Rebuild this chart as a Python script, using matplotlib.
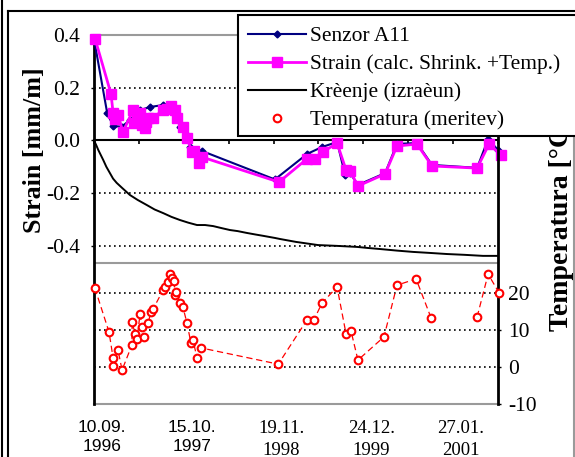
import matplotlib
matplotlib.use('Agg')
import matplotlib.pyplot as plt
import numpy as np
from matplotlib.lines import Line2D
from matplotlib.patches import Rectangle
import matplotlib.transforms as mtransforms

# ---------------- data (x = days since 10.09.1996) ----------------
sensor_days = [0, 59, 86, 123, 160, 205, 250, 306, 343, 365, 383, 414, 428, 481,
               806, 950, 1016, 1083, 1119, 1141, 1176, 1297, 1350, 1439, 1506,
               1707, 1756, 1800]
sensor_strain = [0.385, 0.103, 0.055, 0.052, 0.077, 0.115, 0.127, 0.134, 0.135,
                 0.11, 0.05, 0.02, -0.025, -0.04, -0.148, -0.051, -0.025, -0.006,
                 -0.131, -0.124, -0.169, -0.124, -0.013, -0.01, -0.093, -0.104,
                 0.005, -0.036]

calc_days = [5, 76, 85, 94, 107, 129, 174, 176, 196, 205, 214, 227, 232, 241, 263,
             307, 325, 343, 361, 370, 397, 414, 437, 446, 468, 481, 824, 949, 985,
             1020, 1083, 1123, 1141, 1176, 1297, 1350, 1439, 1506, 1707, 1760, 1813]
calc_strain = [0.385, 0.176, 0.104, 0.081, 0.096, 0.032, 0.115, 0.066, 0.078, 0.104,
               0.059, 0.047, 0.07, 0.085, 0.085, 0.115, 0.119, 0.131, 0.115, 0.085,
               0.051, 0.009, -0.044, -0.04, -0.086, -0.063, -0.158, -0.07, -0.07,
               -0.044, -0.01, -0.112, -0.116, -0.173, -0.127, -0.021, -0.014,
               -0.097, -0.105, -0.014, -0.055]

creep_days = [0, 10, 19, 30, 41, 55, 71, 85, 101, 125, 160, 195, 235, 270, 309, 345,
              383, 420, 459, 495, 531, 570, 606, 640, 681, 720, 754, 806, 829, 900,
              998, 1080, 1172, 1220, 1274, 1350, 1422, 1500, 1573, 1650, 1733, 1800]
creep_strain = [0, -0.018, -0.036, -0.055, -0.074, -0.1, -0.124, -0.145, -0.161,
                -0.18, -0.207, -0.226, -0.245, -0.262, -0.276, -0.29, -0.302, -0.312,
                -0.321, -0.321, -0.325, -0.333, -0.34, -0.344, -0.351, -0.357, -0.362,
                -0.37, -0.374, -0.385, -0.397, -0.4, -0.404, -0.408, -0.412, -0.418,
                -0.423, -0.427, -0.431, -0.434, -0.438, -0.438]

temp_days = [4, 67, 85, 86, 107, 125, 169, 170, 183, 192, 205, 214, 223, 241, 254,
             263, 308, 316, 330, 339, 348, 357, 361, 365, 383, 396, 414, 432, 441,
             459, 477, 821, 949, 980, 1016, 1083, 1123, 1145, 1176, 1292, 1350,
             1435, 1502, np.nan, 1707, 1756, 1805]
temp_vals = [21.4, 9.5, 2.5, 0.3, 4.6, -0.8, 6.0, 12.2, 9.0, 7.6, 14.4, 10.9, 8.2,
             12.0, 14.9, 15.7, 20.9, 21.7, 23.1, 25.2, 24.1, 23.3, 19.5, 20.4, 17.4,
             16.3, 12.0, 6.5, 7.3, 2.5, 5.2, 0.8, 12.8, 12.8, 17.4, 21.7, 9.0, 9.8,
             1.9, 8.2, 22.2, 23.9, 13.3, np.nan, 13.6, 25.2, 20.1]

strain_ticks = [0.4, 0.2, 0.0, -0.2, -0.4]
strain_ticklabels = ['0.4', '0.2', '0.0', '-0.2', '-0.4']
temp_ticks = [-10, 0, 10, 20]
temp_ticklabels = ['-10', '0', '10', '20']
date_days = [0, 400, 800, 1200, 1600]
date_labels = ['10.09.\n1996', '15.10.\n1997', '19.11.\n1998', '24.12.\n1999', '27.01.\n2001']
date_fonts = ['Liberation Sans', 'Liberation Sans', 'Liberation Serif', 'Liberation Serif', 'Liberation Serif']

labels = ['Senzor A11', 'Strain (calc. Shrink. +Temp.)', 'Krèenje (izraèun)', 'Temperatura (meritev)']

SERIF = 'Liberation Serif'
W, H = 575, 457

fig = plt.figure(figsize=(W / 100, H / 100), dpi=100)
fig.patch.set_facecolor('white')
ax = fig.add_axes([94 / W, 1 - 404 / H, (498 - 94) / W, (404 - 35) / H])
ax.set_xlim(0, 1800)
ax.set_ylim(-1.0, 0.4)
ax2 = ax.twinx()
ax2.set_ylim(-10, 90)

# spines
ax.spines['top'].set_visible(False)
ax.spines['right'].set_visible(False)
ax.spines['bottom'].set_position(('data', 0))
ax.spines['bottom'].set_linewidth(1.5)
ax.spines['left'].set_linewidth(2)
for s in ['top', 'left', 'bottom']:
    ax2.spines[s].set_visible(False)
ax2.spines['right'].set_linewidth(2)

ax.set_xticks(np.arange(0, 1801, 200))
ax.tick_params(axis='x', direction='out', length=3, width=1.2, labelbottom=False)
ax.set_yticks(strain_ticks)
ax.set_yticklabels(strain_ticklabels, family=SERIF, fontsize=15.5)
ax.tick_params(axis='y', direction='out', length=2, width=1, pad=8)
ax2.set_yticks(temp_ticks)
ax2.set_yticklabels(temp_ticklabels, family=SERIF, fontsize=15.5)
ax2.tick_params(axis='y', direction='out', length=2.5, width=1, pad=5)

# grid / separator lines
dot = (0, (1, 2))
for v in [0.2, -0.2, -0.4]:
    ax.axhline(v, color='black', lw=1.2, ls=dot, zorder=1)
for v in [0, 10, 20]:
    ax2.axhline(v, color='black', lw=1.2, ls=dot, zorder=1)
gray = '#9a9a9a'
ax.axhline(0.4, color=gray, lw=1.5, zorder=1, clip_on=False)
ax.axhline(-0.465, color=gray, lw=1.5, zorder=1)
ax.axhline(-1.0, color=gray, lw=1.5, zorder=1, clip_on=False)

# series
ax.plot(creep_days, creep_strain, color='black', lw=1.4, zorder=3)
ax.plot(sensor_days, sensor_strain, color='#000080', lw=1.5, marker='D',
        markersize=3.5, zorder=4, clip_on=False)
ax.plot(calc_days, calc_strain, color='#FF00FF', lw=2, marker='s', markersize=7,
        zorder=5, clip_on=False)
ax2.plot(temp_days, temp_vals, color='red', lw=0.9, ls=(0, (5, 3)), zorder=3, clip_on=False)
ax2.plot(temp_days, temp_vals, ls='none', marker='o', markersize=5.5, mfc='white',
         mec='red', mew=1.5, zorder=4, clip_on=False)

# date labels
trans = mtransforms.blended_transform_factory(ax.transData, fig.transFigure) + \
    mtransforms.ScaledTranslation(8 / 100, 0, fig.dpi_scale_trans)
for d, lab, fam in zip(date_days, date_labels, date_fonts):
    fs = 12.5 if 'Sans' in fam else 13.5
    fig.text(d, 1 - 420 / H, lab, transform=trans, ha='center', va='top',
             family=fam, fontsize=fs, linespacing=1.35)

# axis titles
fig.text(35 / W, 1 - 150 / H, 'Strain [mm/m]', rotation=90, ha='center', va='center',
         family=SERIF, fontweight='bold', fontsize=18.7)
fig.text(562 / W, 1 - 224 / H, 'Temperatura [°C]', rotation=90, ha='center', va='center',
         family=SERIF, fontweight='bold', fontsize=20)

# outer frame
def fline(xs, ys, **kw):
    fig.add_artist(Line2D([x / W for x in xs], [1 - y / H for y in ys],
                          transform=fig.transFigure, **kw))
fline([2, 2], [0, H], color='black', lw=1.5)
fline([8, 8], [11, H], color='black', lw=1.5)
fline([8, W], [11, 11], color='black', lw=1.5)
fline([574, 574], [136, H], color=gray, lw=1.5)

# legend (frame extends beyond the right edge)
fig.add_artist(Rectangle((238 / W, 1 - 136 / H), (620 - 238) / W, (136 - 15) / H,
                         transform=fig.transFigure, facecolor='white',
                         edgecolor='black', lw=1.5, zorder=4.9))
handles = [Line2D([], [], color='#000080', lw=1.5, marker='D', markersize=3.5),
           Line2D([], [], color='#FF00FF', lw=2, marker='s', markersize=7),
           Line2D([], [], color='black', lw=1.5),
           Line2D([], [], ls='none', marker='o', markersize=5.5, mfc='white', mec='red', mew=1.5)]
leg = fig.legend(handles, labels, loc='upper left', bbox_to_anchor=(248 / W, 1 - 26 / H),
                 prop={'family': SERIF, 'size': 15.5}, frameon=False,
                 borderpad=0, handlelength=2.7, handletextpad=0.2, labelspacing=0.37,
                 borderaxespad=0)
leg.set_zorder(5)

fig.savefig('out.png', dpi=100)
